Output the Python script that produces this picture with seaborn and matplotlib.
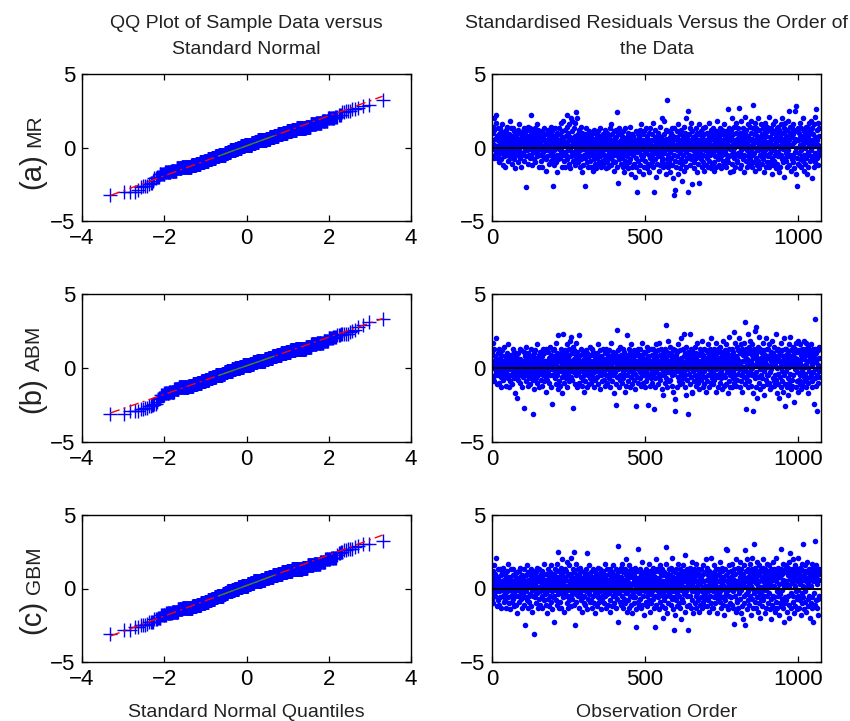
import numpy as np
import matplotlib
matplotlib.use("Agg")
import matplotlib.pyplot as plt
import seaborn as sns
from statistics import NormalDist

# ---------------- text ----------------
col_titles = [["QQ Plot of Sample Data versus", "Standard Normal"],
              ["Standardised Residuals Versus the Order of", "the Data"]]
x_labels = ["Standard Normal Quantiles", "Observation Order"]
row_letters = ["(a)", "(b)", "(c)"]
row_models = ["MR", "ABM", "GBM"]
qq_xticks = [-4, -2, 0, 2, 4]
order_xticks = [0, 500, 1000]
yticks = [-5, 0, 5]

# ---------------- data: standardised residuals, in tenths, in observation order ----------------
mr_tenths = [
4, 14, -6, 10, 20, -7, 2, 12, -2, 6, -5, 17, 1, 22, -3, 8, -7, 5, 13, -1,
-5, 9, 2, -10, 13, 0, 7, -4, 11, 3, -8, 5, 16, -2, 2, -12, 8, 5, -6, 1,
10, -3, -13, 6, 2, 12, -5, 4, -1, 14, 7, -9, 2, 5, -5, 9, -2, 18, -7, 3,
-2, 13, 5, -11, 1, 8, -4, 13, 3, -6, 11, 0, -8, 6, 2, -14, 5, 10, -2, 7,
2, -5, 9, 12, -10, 4, -1, 6, 16, -3, 2, -7, 10, -13, 5, 1, 8, -5, 3, 11,
-4, 7, 2, -9, 13, 5, -2, 9, 0, -27, 6, -6, 12, 3, -2, 14, -11, 5, 1, -5,
8, -1, 4, 13, -7, 2, 10, 22, -5, 5, -12, 7, 0, 11, -3, 6, -8, 2, 13, -2,
5, -10, 3, 9, -4, 16, 1, -6, 7, -2, 12, 4, -13, 8, 2, -5, 10, -1, 5, -9,
2, 11, -5, 6, -13, 1, 8, -3, 5, 13, -7, 2, 9, -2, -16, 5, 3, -8, 10, 0,
-6, 4, 12, -2, 7, -11, 2, 5, -5, 9, -1, 14, -9, 3, 6, -4, 11, -7, -26, 5,
2, -12, 8, -2, 5, 13, -6, 1, -10, 7, 3, -17, 10, -5, 0, 5, -8, 13, -1, 4,
-7, 9, 2, -4, 17, -2, 6, -13, 5, 11, -5, 1, 18, -9, 3, 7, -3, 12, -13, 2,
8, -5, 4, 14, 22, -8, 2, -1, 10, -11, 5, 16, -2, 0, 7, -14, 5, 20, -6, 2,
11, -3, 18, 6, -9, 1, 13, -5, 3, 17, -12, 8, -2, 5, 24, -7, 20, 2, -4, 9,
-10, 5, 2, -5, 12, -13, 7, 0, -2, 14, 4, -8, 10, -17, 3, -1, 6, -12, 1, 8,
-5, 2, 9, -7, -26, 5, -2, 13, -10, 1, 6, -4, -13, 3, 8, -6, 0, 11, -3, 5,
-9, 2, 7, -13, 4, -1, 10, -5, -16, 5, 2, -8, 12, -2, 6, -11, 1, -5, 9, -14,
3, -7, 5, 0, -12, 11, -4, 2, 8, -10, -2, 5, -6, 13, 1, -13, 7, -3, 4, -9,
6, -2, -11, 9, 2, -5, 0, 12, -8, 4, -14, 7, -1, 5, -10, 2, 10, -5, -13, 3,
-4, 8, 1, -7, 13, -2, 5, -12, 2, 16, -6, 0, 9, -9, 4, -3, 11, -16, 6, -1,
5, -10, 2, 7, -5, 12, -13, 1, 24, -2, -24, 9, -6, 4, 13, -8, 2, -4, 10, 0,
-11, 5, -2, 8, -7, 3, -13, 11, 1, -5, 6, -17, 2, -3, 13, -9, 5, 0, -12, 7,
2, -6, 10, -1, -14, 4, 7, -10, 3, -4, 14, -8, 1, 5, -18, 9, -2, 5, -13, 2,
-5, 8, -11, 1, 6, -20, 4, -2, 11, -7, 2, -13, -30, 5, -3, 9, -9, 0, 5, -16,
7, -2, 3, -12, 12, -5, 1, 16, -8, 5, -1, -18, 9, 2, -6, 5, -13, 11, -4, 0,
-9, 4, 13, -3, 6, -14, 2, 8, -11, 0, 5, -5, -17, 10, 3, -7, 13, -2, -12, 5,
2, -5, 9, -10, 0, 17, -13, 5, -2, -30, 7, -8, 2, 12, -20, 4, -4, 6, -11, 1,
-6, 10, -1, 5, -16, 3, 8, -5, 14, -12, 2, -3, 7, -9, 0, 20, -7, 5, -13, 2,
9, -4, 18, -11, 4, -2, 12, -18, 6, 1, 32, -8, 5, -5, 11, -13, 2, 0, -10, 7,
-3, 5, -17, 10, 2, -7, 13, -12, 3, -1, 8, -21, 5, -5, -32, 13, -9, -29, 1, 6,
-13, 2, 11, -6, 7, -2, -18, 4, 16, -10, 0, 5, -14, 9, -4, 2, -8, 12, -1, -23,
5, -11, 8, 1, -5, 14, -16, 3, -2, 10, -9, 6, -3, 20, -13, 2, 7, -7, 25, 0,
-30, 4, -5, 9, 2, -12, 13, -1, 5, -8, 17, 0, -6, 11, -25, 3, -2, 7, -14, 5,
-10, 8, 2, -4, 13, -7, 1, 6, -17, 10, -2, 5, -11, 3, 16, -5, -24, 9, -3, 2,
5, -8, 11, -1, 4, -13, 7, 0, -5, 13, -10, 2, 9, -16, 5, -2, 14, -6, 1, -12,
3, 10, -7, 2, -13, 6, -3, 8, 17, -9, 0, 5, -5, 12, -14, 2, 7, -2, -11, 9,
-4, 1, 13, -10, 5, -1, -16, 8, 3, -6, 11, -13, 2, 6, -2, 18, -8, 4, -5, 10,
0, -12, 7, 2, -7, 13, -3, 5, -14, 9, 1, -5, 12, -9, 4, -2, 16, -11, 5, -4,
8, -2, 3, -13, 11, 1, -8, 6, -5, 26, -10, 2, 13, -6, 0, 9, -17, 5, -1, 7,
-5, 12, 2, -11, 20, -3, 5, -16, 9, 0, -7, 14, 4, -13, 2, 10, -5, 17, -9, 3,
6, -10, 1, 13, -4, 8, 27, -6, 2, -14, 10, 5, -2, 18, -12, 7, -5, 3, 13, -8,
2, 11, -5, 5, -17, 9, 0, 21, -9, 4, 12, -2, 7, -13, 16, -6, 2, 8, -11, 1,
-3, 14, 5, -8, 10, -1, 18, -13, 6, 2, -5, 13, 29, -10, 3, 9, -4, 17, -16, 5,
11, -7, 0, 13, -12, 4, 8, -2, 20, -9, 5, 1, -14, 12, -5, 7, -1, 16, -6, 2,
-11, 9, 5, -3, 13, -8, 2, 6, -17, 10, -2, 17, 3, -13, 8, -5, 11, 0, -10, 14,
4, -6, 12, 1, -13, 21, -4, 7, -10, 2, 13, -2, 5, -18, 10, -7, 16, 2, -12, 6,
-2, 11, -9, 5, 18, -5, 8, -14, 3, 13, -11, 1, 9, -6, 14, -3, 5, -17, 12, 0,
7, -13, 2, 16, -5, 10, -8, 4, 20, -10, 6, -1, 13, -20, 2, 11, -7, 5, 17, -4,
-9, 8, 3, -13, 12, -2, 18, -6, 5, 25, -12, 1, 10, -5, 14, -16, 7, 2, -8, 13,
2, -10, 16, -5, 9, 4, -14, 12, 25, -3, 6, -18, 28, 0, 11, -26, 5, -7, 13, -11,
5, -4, 10, -12, 2, 17, -8, 7, -2, 13, -13, 5, 1, -6, 20, -9, 8, 3, -16, 11,
-5, 12, 0, -11, 14, 6, -7, 9, -18, 4, 13, -3, 8, -13, 2, 17, -5, 11, -9, 5,
10, -2, 18, -8, 5, 13, -21, 3, -6, 9, 1, -13, 16, -4, 7, 21, -10, 26, 2, -5,
12, -7, 5, 17, -12, 2, 8, -5, 13, -2,
]

abm_tenths = [
11, -7, 17, 3, -9, 5, 0, 13, -5, 2, 8, 20, -2, 6, -11, 4, 1, -5, 10, -2,
5, -3, 13, -10, 2, 7, -1, -6, 9, 0, -13, 4, 2, 12, -5, 5, -8, 1, 14, -2,
-6, 3, 8, -2, 5, -12, 1, 10, -4, 2, 16, -7, 5, -1, -13, 7, 2, -9, 4, 0,
9, -5, 2, 6, -11, 0, 13, -3, 5, -1, -7, 11, 2, -17, 5, 3, -5, 8, -2, 1,
-20, 4, 7, -2, 10, -8, 1, 5, -5, 13, 0, -10, 6, 2, -4, 12, -1, -13, 3, 5,
2, -6, 11, -3, 5, -27, 8, -1, 4, -9, 14, 2, -5, 0, 7, -12, 5, -2, 10, -7,
3, 9, -4, 1, -11, 6, -2, 13, -6, 5, 0, 8, -8, -31, 2, -14, 10, 4, -3, 7,
-5, 12, 2, -7, 5, -1, 16, -10, 3, 0, -5, 9, 5, -13, 1, 7, -2, 11, -8, 4,
6, -2, -12, 8, 2, -5, 13, 1, -9, 5, 10, -3, 0, 5, -16, 3, -6, 13, 2, -4,
-8, 5, 11, -2, 1, 7, -10, 3, 14, -5, 0, 9, -13, 4, -24, 6, -1, 12, -5, 2,
8, -4, 2, 13, -7, 5, -1, 17, -11, 3, 10, 0, -5, 6, -14, 22, -2, 5, 9, -9,
1, 7, -12, 4, 13, -2, 10, -6, 2, -17, 5, 0, 23, -4, 8, -10, 3, 12, -3, 6,
-7, 11, 5, -1, 16, -13, 2, 7, -5, 9, 0, -9, 13, 3, -2, 18, -6, 5, 21, -2,
4, 10, -8, 14, 1, -27, 6, -3, 12, 2, -11, 5, 17, -5, 0, 8, -13, 2, 11, -1,
-4, 7, 3, 22, -10, 5, -2, 9, 0, -6, 13, 2, -12, 5, 1, -8, 10, -2, 6, -16,
2, -5, 8, 0, -9, 12, 4, -2, 6, -13, 2, 10, -5, 1, 7, -11, 5, -1, 14, -7,
5, -2, -10, 9, 3, -5, 13, 0, -7, 5, 11, -3, 2, -13, 6, 1, -8, 8, -2, 4,
-1, 10, 5, -6, 2, 16, -11, 7, -3, 0, 5, -14, 12, 2, -5, 8, 4, -9, 1, -2,
7, -4, 13, 1, -8, 3, -2, 10, 5, -12, 0, 6, -5, 13, -1, 4, -10, 2, 9, -5,
2, 12, -7, 5, -2, 8, -13, 3, 17, -4, 1, -9, 6, 0, 11, -5, 4, -17, 9, -2,
5, -3, 10, 0, -11, -25, 7, 26, 2, -6, 12, -1, 5, -13, 8, 2, -5, 14, -8, 3,
-5, 9, 1, -10, 6, 4, -2, 13, -7, 0, 11, -4, 2, -16, 7, 5, -1, 9, -12, 2,
22, -5, 3, 8, -9, 5, -2, 13, 1, -13, 4, 10, -6, 0, 16, -3, 6, -11, 2, 9,
-2, 7, -8, 5, 12, -4, 2, -14, 9, 0, -26, 5, 11, -6, 3, -1, 13, -10, 4, 8,
1, -7, 13, -3, 6, 2, -12, 9, 0, -5, 17, 4, -2, -10, 7, 11, -5, 2, -13, 5,
10, -2, 5, -9, 14, 0, 7, -6, 3, 12, -25, 1, -4, 8, -12, 5, 2, -1, 13, -7,
4, -10, 9, 2, -5, 13, -2, -28, 6, 0, 11, -7, 3, -13, 16, 5, -3, 8, -1, 2,
-6, 12, 1, -11, 5, 17, -4, 2, 9, -8, 0, 13, -5, 5, -14, 7, 2, 10, -2, -18,
3, 8, -5, 13, -1, -10, 6, 2, 29, -7, 11, 0, -13, 5, 18, -3, 9, -9, 4, 1,
-8, 5, 14, -2, 10, 2, -12, 7, -5, 1, 13, -16, 4, 0, 8, -4, 12, -21, -29, 5,
9, -2, 3, -13, 6, 11, -6, 0, 16, -9, 5, 2, -3, 12, -11, 7, -1, 20, -5, 2,
-10, 5, 13, 1, -7, 8, -2, 23, -13, 4, 10, -5, 0, 14, -18, 6, 2, -8, 11, -1,
5, -31, 2, 9, -4, 23, 7, -11, 0, 13, -6, 3, 12, -16, -17, 5, 10, -2, 1, -9,
8, -5, 14, 2, -12, 6, -1, 10, 4, -7, 17, 0, -10, 5, 2, -14, 9, -3, 13, -5,
-2, 11, 5, -8, 1, 18, -5, 7, -13, 3, 9, -2, 13, -11, 6, 0, -6, 12, 2, -16,
4, -9, 7, 2, 16, -5, 10, -1, -13, 5, 0, 13, -4, 8, -10, 2, 20, -7, 5, -2,
11, -3, -11, 6, 1, 13, -8, 4, 9, -5, 17, -1, -16, 5, 2, 10, -6, 0, 13, -13,
-4, 7, 2, -10, 14, 5, -2, 11, -7, 0, 8, -14, 3, 18, -5, 6, 1, -12, 9, 4,
12, -6, 5, 0, -11, 16, 2, -3, 10, -17, 7, 4, -9, 13, -1, 21, -5, 8, -13, 2,
-2, 9, -13, 5, 13, 1, -7, 11, -2, 6, 24, -10, 3, 17, -5, 0, 8, -12, 5, 14,
7, -8, 2, 12, -4, 20, -1, 5, -13, 10, 2, -5, 16, -9, 4, 0, 13, -16, 9, -3,
5, 11, -6, 1, 17, -11, 8, 31, -2, -28, 13, 3, -8, 6, 23, -5, 10, -13, 2, 14,
-9, 5, 18, -2, 12, -12, 4, 9, -5, 16, 0, -17, 7, -29, 2, 13, -4, 10, -7, 25,
28, -3, 8, -13, 5, 11, -20, 2, 14, -6, 6, 21, -10, 3, -1, 13, -14, 7, 1, -5,
10, -7, 4, 17, -12, 2, 6, -2, 12, -18, 5, 0, 9, -8, 20, 3, -5, 13, -11, 2,
-5, 13, 7, -10, 1, 16, -3, 9, -14, 5, 11, -1, -13, 6, 2, 18, -7, 4, 10, -9,
3, -12, 14, 2, -5, 8, 23, -8, 5, -17, 12, 0, 7, -11, 13, -4, 5, -20, 9, 1,
-6, 10, 2, -13, 17, 5, -9, 12, -2, 8, -16, 4, 20, -5, 6, -11, 13, -26, 2, 9,
13, -2, -13, 7, 4, -7, 11, -18, 1, 16, -10, 5, 8, -4, 21, -14, 3, 12, -8, 5,
-12, 8, 2, 14, -5, 10, -23, 5, 13, -1, 7, -13, 17, 2, -9, 11, -3, 6, -16, 18,
4, -8, 12, 1, -11, 16, 5, -5, 9, -14, 2, 13, -2, 7, -12, 10, 0, -6, 18, -9,
6, 13, -4, 9, -13, 3, 17, -7, 11, 1, -10, 14, 5, -17, 8, -2, 12, -6, 5, 10,
-5, 9, 16, -13, 2, 7, -9, 13, -3, 11, -24, 5, 8, -1, 13, 33, -7, 10, -12, 4,
-29, 6, -5, 12, 2, -10, 14, -2, 7, -6,
]

gbm_tenths = [
-7, 12, 2, -10, 16, 5, -3, 7, 0, -5, 10, 21, -2, 4, -12, 6, 1, -8, 13, 3,
8, -2, -11, 5, 2, 13, -6, 1, -1, 9, -13, 5, 0, 11, -5, 3, 14, -9, 6, -2,
2, -8, 10, -4, 7, 0, -13, 5, 12, -2, 1, -6, 17, 4, -10, 8, -1, 5, -14, 2,
-5, 6, 13, -2, -9, 3, 9, -7, 0, 13, -3, 5, -12, 2, 10, -5, 1, 7, -11, 5,
11, -1, -17, 4, 6, -5, 2, 12, -9, 0, 8, -2, 14, -7, 3, 5, -13, 9, -4, 1,
-3, 7, 2, -11, 13, 0, 5, -6, -25, 9, 2, -2, 16, -8, 4, 11, -13, 1, 6, -5,
5, -9, 10, 1, -4, 13, -12, 3, 7, -1, -16, 5, 0, 12, -5, 2, -31, 8, -2, 9,
-6, 4, 11, -10, 2, 6, -3, 14, 0, -13, 8, 5, -7, 1, 13, -2, 5, -11, 10, 2,
7, -5, 1, 12, -13, 3, 9, -1, 5, -8, 17, -4, 2, 6, -11, 0, 10, -3, -17, 5,
-2, 13, 4, -7, 8, -12, 2, 5, -5, 11, 0, -9, 16, 2, -2, 7, -14, 5, 9, -6,
3, 10, -5, -23, 6, 1, 13, -8, 5, -1, 17, -11, 2, 8, 25, -4, 12, 0, -13, 5,
-9, 7, 2, 14, -3, 9, -13, 4, 0, 20, -6, 11, 3, -16, 5, -2, 13, 8, -5, 1,
12, -2, 6, -10, 18, 2, -5, 9, -13, 5, 0, 16, -8, 4, 10, -1, -12, 7, 21, -4,
2, 8, -7, 13, -2, 5, 11, -11, 25, 3, -25, 7, -4, 17, 1, -9, 9, 5, -2, 13,
-5, 2, 10, -13, 6, 0, 14, -3, 8, -8, 4, 12, -1, -16, 5, 2, 7, -6, 11, -10,
4, -5, 9, 1, -11, 13, 5, -2, 7, -14, 2, 24, -7, 10, 0, -4, 16, 3, -9, 6,
-1, 11, -8, 5, 2, -13, 8, 0, -5, 13, 3, -10, 6, 1, -3, 12, -17, 4, 9, -2,
7, -4, 2, -12, 14, 5, -6, 10, 0, -9, 4, 13, -2, 1, -14, 8, 5, -5, 11, -1,
-7, 5, 12, 2, -10, 8, -2, 17, -5, 3, 0, -13, 9, 6, -4, 13, 1, -11, 5, 2,
10, -3, 6, -8, 1, 13, -16, 4, 8, -1, -12, 11, 2, -5, 16, 0, 7, -10, 5, -2,
-5, 9, 2, -13, 5, 13, -2, 10, -7, 1, 29, 4, -23, 7, -3, 12, 0, -9, 6, 14,
2, -11, 8, 5, -5, 17, -1, 11, -13, 3, 6, -7, 0, 13, -10, 5, 20, -3, 9, -16,
5, 1, -8, 12, -2, 7, -13, 4, 16, -5, 2, 10, -11, 0, 13, -1, -17, 8, 3, -6,
11, -4, 5, -10, 9, 0, -6, 14, 2, -14, -26, 7, -2, 12, 4, 27, -9, 6, 1, -12,
-3, 8, 13, -7, 2, -13, 10, 5, -1, 18, -11, 3, 7, -5, 0, 11, -18, 5, 9, -2,
6, -9, 2, 13, -5, 1, 10, -12, 4, 8, -2, 17, -8, 5, -16, 12, 0, -4, 7, 2,
-10, 5, 9, -2, 14, 3, -7, 1, 11, -13, -26, 8, 4, -5, 20, 0, -11, 6, 13, -1,
5, -6, 12, 2, -14, 7, -3, 16, 0, -9, 10, 4, -2, 13, -12, 5, 2, -20, 9, -5,
-2, 11, -8, 5, 1, -13, 17, 3, -5, 28, 8, -1, -17, 10, 5, -10, 13, 0, -4, 7,
9, -5, 2, 14, -11, 6, 21, -7, 4, 12, -2, -14, 8, 1, -6, -28, 11, 5, -18, 2,
-8, 13, 3, -3, 7, -12, 10, 0, 17, -5, 5, -10, 2, 13, -13, 8, -1, 4, -21, 11,
2, -7, 16, 6, -9, 1, 12, -4, 9, -16, 5, 23, -2, 0, 7, -12, 13, -5, 3, 10,
-28, 4, 8, -11, 2, 14, -5, 6, -13, 11, 0, -8, 18, 3, -2, 9, -17, 5, 13, -2,
7, -10, 1, 12, -5, 5, 17, -13, 2, 9, -3, 13, -8, 0, 6, -16, 10, 4, -1, -11,
3, 13, -6, 8, -2, -13, 5, 10, -9, 1, 16, -4, 5, -12, 11, 2, -7, 20, 0, -5,
-12, 6, 2, 14, -8, 9, -2, 5, -16, 12, 0, -5, 7, 21, -10, 4, 1, -13, 10, 5,
8, -2, -13, 11, 3, -6, 16, 1, -10, 7, 13, -4, 2, -17, 9, 5, -1, 13, -7, 0,
-4, 10, 5, -9, 18, -2, 7, -13, 2, 12, -6, 4, 14, -11, 0, 8, -18, 6, 2, -5,
13, -8, 1, 9, -3, 27, -12, 5, 26, -1, 11, -14, 3, 7, -5, 16, 0, -10, 5, 8,
-6, 12, 2, -11, 17, 5, -2, 9, -13, 6, -24, 13, 1, -5, 10, -16, 4, 20, -8, 2,
5, -9, 14, 0, -13, 11, 3, -3, 18, -7, 8, 2, -17, 13, -1, 6, -12, 9, 4, -21,
10, -5, 2, 16, -10, 26, 7, -25, 1, 12, -4, 5, -14, 20, 8, -2, 13, -8, 3, 11,
-11, 6, 17, -5, 9, -18, 2, 13, -7, 5, 21, -13, 8, 0, -3, 30, 11, -9, 5, 14,
4, -13, 10, 7, -6, 18, -2, 12, -16, 2, 9, -10, 16, 5, -4, 11, -20, 1, 13, -7,
-2, 8, -12, 14, 5, -8, 20, 2, -5, 11, -17, 6, 13, -1, 9, -13, 3, 17, -5, 7,
12, -10, 5, -3, 16, 1, -14, 9, 4, -7, 13, -21, 7, 2, -11, 10, 18, -5, 6, -13,
2, 13, -6, 8, -16, 11, 5, -9, 21, -2, 7, -13, 14, 0, -5, 12, -18, 9, 3, -10,
8, -4, 13, -12, 27, 4, -7, 10, -1, 17, -13, 6, 2, -23, 11, -6, 13, 5, -10, 16,
-8, 5, 11, -16, 3, 14, -5, 9, -11, 18, 1, -20, 7, 12, 24, -3, 6, -13, 10, 4,
13, -9, 5, 20, -5, 8, -17, 12, 2, -12, 16, 6, -2, 10, -14, 5, 13, -7, 21, -1,
-5, 11, 7, -13, 14, 3, -8, 9, -18, 5, 13, -3, 17, -10, 2, 30, -6, 12, 8, -14,
9, -2, 16, -9, 5, 12, -16, 7, 1, 18, -7, 11, -12, 4, 13, -5, 8, -20, 6, 10,
-10, 13, 2, 17, -6, 9, -13, 5, 11, -23, 14, -3, 8, -11, 7, 12, 32, -8, 5, 16,
-13, 9, 3, -7, 13, -18, 6, 10, -5, 13,
]

series = [mr_tenths, abm_tenths, gbm_tenths]

# ---------------- style ----------------
sns.set_theme(style="ticks")
plt.rcParams['font.family'] = ['Liberation Sans', 'DejaVu Sans']
plt.rcParams.update({
    "axes.edgecolor": "black",
    "axes.linewidth": 1.0,
    "xtick.color": "black",
    "ytick.color": "black",
    "axes.facecolor": "white",
    "figure.facecolor": "white",
})

W, H = 850, 721
fig = plt.figure(figsize=(W / 100, H / 100), dpi=100)


def fx(px):
    return px / W


def fy(py):
    return 1 - py / H


tops = [74, 294, 515]
bots = [221, 442, 662]
col_l = [82, 492]
col_r = [411, 821]
label_bottom = [189, 413, 634]

nd = NormalDist()
z1, z3 = nd.inv_cdf(0.25), nd.inv_cdf(0.75)

for i, vals in enumerate(series):
    res = np.asarray(vals, dtype=float) / 10.0
    n = len(res)
    order = np.arange(1, n + 1)
    sample_q = np.sort(res)
    theo_q = np.array([nd.inv_cdf((k - 0.5) / n) for k in order])

    h = (bots[i] - tops[i]) / H
    ax1 = fig.add_axes([fx(col_l[0]), fy(bots[i]), (col_r[0] - col_l[0]) / W, h])
    ax2 = fig.add_axes([fx(col_l[1]), fy(bots[i]), (col_r[1] - col_l[1]) / W, h])

    # --- QQ plot ---
    sns.scatterplot(x=theo_q, y=sample_q, marker='+', s=95, color='blue',
                    linewidth=1.0, ax=ax1, zorder=2)
    q1, q3 = np.percentile(res, [25, 75])
    slope = (q3 - q1) / (z3 - z1)
    icpt = q1 - slope * z1
    xs = np.array([theo_q[0], theo_q[-1]])
    ax1.plot(xs, icpt + slope * xs, color='red', lw=1.0,
             ls=(0, (7, 3, 1.5, 3)), zorder=3)
    xm = np.array([z1, z3])
    ax1.plot(xm, icpt + slope * xm, color='#2e8b2e', lw=1.0, zorder=4)
    ax1.set_xlim(-4, 4)
    ax1.set_ylim(-5, 5)
    ax1.set_xticks(qq_xticks)
    ax1.set_yticks(yticks)

    # --- residuals vs order ---
    sns.scatterplot(x=order, y=res, s=16, color='blue', linewidth=0,
                    ax=ax2, zorder=2)
    ax2.axhline(0, color='black', lw=1.4, zorder=3)
    ax2.set_xlim(0, 1075)
    ax2.set_ylim(-5, 5)
    ax2.set_xticks(order_xticks)
    ax2.set_yticks(yticks)

    for ax in (ax1, ax2):
        ax.set_xlabel("")
        ax.set_ylabel("")
        ax.tick_params(direction='in', top=True, right=True, length=4,
                       width=0.9, labelsize=16, pad=5)
        for sp in ax.spines.values():
            sp.set_visible(True)
            sp.set_color('black')
            sp.set_linewidth(1.0)

# ---------------- titles / labels ----------------
cx = [(col_l[0] + col_r[0]) / 2, (col_l[1] + col_r[1]) / 2]
for c in range(2):
    fig.text(fx(cx[c]), fy(28.5), col_titles[c][0], ha='center', va='baseline',
             fontsize=14, color='#222222')
    fig.text(fx(cx[c]), fy(54.5), col_titles[c][1], ha='center', va='baseline',
             fontsize=14, color='#222222')
    fig.text(fx(cx[c]), fy(717), x_labels[c], ha='center', va='baseline',
             fontsize=14, color='#222222')

fig.canvas.draw()
renderer = fig.canvas.get_renderer()
for i in range(3):
    t1 = fig.text(fx(40), fy(label_bottom[i]), row_letters[i], rotation=90,
                  rotation_mode='anchor', ha='left', va='baseline',
                  fontsize=21, color='#222222')
    bb = t1.get_window_extent(renderer=renderer)
    fig.text(fx(40), (bb.y1 + 6) / H, row_models[i], rotation=90,
             rotation_mode='anchor', ha='left', va='baseline',
             fontsize=15, color='#222222')

fig.savefig("out.png", dpi=100, facecolor='white')
